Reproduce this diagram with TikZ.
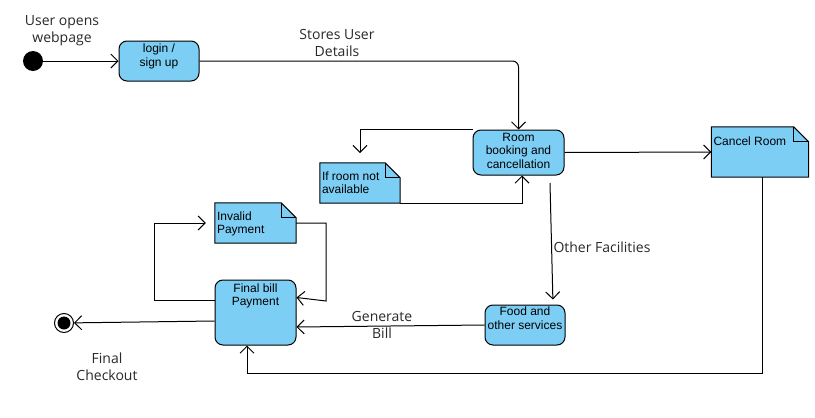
\documentclass[tikz,border=0pt]{standalone}
\usepackage{fontspec}
\setmainfont{Liberation Sans}
\newfontfamily\lblfont{Open Sans}
\usetikzlibrary{arrows.meta,backgrounds}
\definecolor{boxblue}{RGB}{125,206,245}
\definecolor{lblc}{RGB}{45,40,40}
\newcommand\btxt[4]{\parbox[c][#2][t]{#1}{\centering\vspace*{#3}\strut#4\par}}
\newcommand\ntxt[4]{\parbox[c][#2][t]{#1}{\raggedright\leftskip=2pt\vspace*{#3}\strut#4\par}}
\newcommand\dogear[1]{%
  \begin{scope}[on background layer]
    \draw[fill=boxblue,line width=1pt] (#1.north west) -- ([xshift=-15pt]#1.north east) -- ([yshift=-15pt]#1.north east) -- (#1.south east) -- (#1.south west) -- cycle;
    \draw[line width=1pt] ([xshift=-15pt]#1.north east) |- ([yshift=-15pt]#1.north east);
  \end{scope}}
\begin{document}
\begin{tikzpicture}[x=1pt,y=-1pt,
  sbox/.style={draw,fill=boxblue,rounded corners=8pt,line width=1pt,inner sep=0pt,font=\fontsize{12}{13.5}\selectfont},
  nbox/.style={inner sep=0pt,font=\fontsize{12}{13.5}\selectfont},
  edge/.style={line width=1pt,-{Straight Barb[length=7pt,width=14pt]}},
  lbl/.style={font=\lblfont\fontsize{14}{17}\selectfont,text=lblc,align=center,inner sep=0pt}]
\begin{scope}[on background layer]
  \fill[white] (0,0) rectangle (815,418);
\end{scope}
\useasboundingbox (0,0) rectangle (815,418);

% nodes
\node[circle,fill=black,minimum size=20pt,inner sep=0pt] (init) at (33,61) {};
\node[sbox] (login) at (159,61) {\btxt{80pt}{40pt}{2.5pt}{login /\\sign up}};
\node[sbox] (room) at (518.5,152.5) {\btxt{91pt}{45pt}{1.7pt}{Room\\booking and\\cancellation}};
\node[nbox] (ifroom) at (360,183) {\ntxt{80pt}{40pt}{8pt}{If room not\\available}};
\dogear{ifroom}
\node[nbox] (cancel) at (760,152) {\ntxt{97pt}{50pt}{8.7pt}{Cancel Room}};
\dogear{cancel}
\node[sbox] (food) at (525,325) {\btxt{80pt}{40pt}{1.2pt}{Food and\\other services}};
\node[sbox] (bill) at (255.5,312.5) {\btxt{81pt}{65pt}{2.7pt}{Final bill\\Payment}};
\node[nbox] (invalid) at (255.5,223) {\ntxt{81pt}{40pt}{8pt}{Invalid\\Payment}};
\dogear{invalid}
\node[circle,draw,line width=1pt,fill=white,minimum size=19pt,inner sep=0pt] (final) at (64,323) {};
\fill (final.center) circle (6.5pt);

% coordinates
\coordinate (c1) at (360,153);
\coordinate (c2) at (247,373);
\coordinate (c3) at (550,183);
\coordinate (c4) at (154,300.5);
\coordinate (c5) at (326,301);

% edges
\draw[edge] (init) -- (login);
\draw[edge,rounded corners=6pt] (login.east) -- (room.north |- login.east) -- (room.north);
\draw[edge] (room.north west) -| (c1);
\draw[edge] (ifroom.south east) -| ([xshift=3.5pt]room.south);
\draw[edge] (room.east) -- (cancel.west);
\draw[edge] ([xshift=2.5pt]cancel.south) |- (c2) -- ([xshift=-8.5pt]bill.south);
\draw[edge,shorten >=5pt] (c3) -- ([xshift=28pt]food.north);
\draw[edge] (food.west) -- ([yshift=-14.5pt]bill.east);
\draw[edge] ([yshift=-8.5pt]bill.west) -- (final);
\draw[edge,shorten >=9pt] ([yshift=12pt]bill.west) -- (c4) |- (invalid.west);
\draw[edge] (invalid.east) -| (c5) -- ([yshift=15pt]bill.east);

% labels
\node[lbl] (l1) at (62,31) {User opens\\webpage};
\node[lbl] (l2) at (337,43) {Stores User\\Details};
\node[lbl] (l3) at (602,247) {Other Facilities};
\node[lbl] (l4) at (382,325) {Generate\\Bill};
\node[lbl] (l5) at (107,367) {Final\\Checkout};
\end{tikzpicture}
\end{document}
